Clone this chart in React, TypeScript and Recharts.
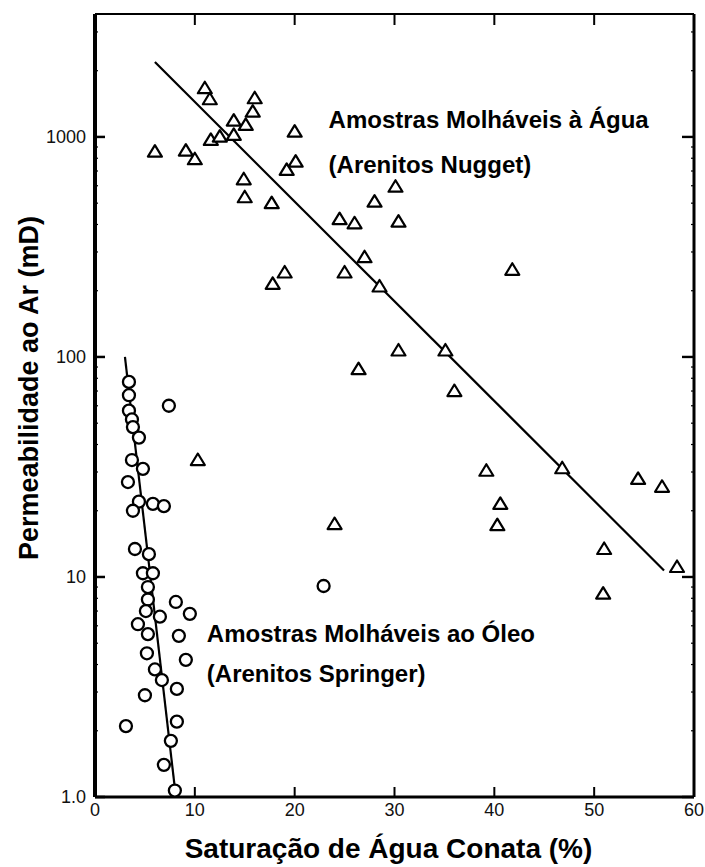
import React from 'react';
import { ScatterChart, Scatter, XAxis, YAxis, ReferenceLine, ReferenceDot } from 'recharts';

// Water-wet samples (Nugget sandstones): connate water saturation (%) and air permeability (mD)
const waterWetSw = [6.0, 9.1, 10.0, 11.0, 11.5, 11.6, 12.5, 13.9, 13.9, 15.1, 15.8, 16.0, 20.0, 14.9, 15.0, 17.7, 19.2, 20.1, 30.1, 28.0, 30.4, 24.5, 26.0, 27.0, 25.0, 28.5, 19.0, 17.8, 41.8, 30.4, 35.1, 26.4, 36.0, 39.2, 46.8, 54.4, 56.8, 40.6, 24.0, 40.3, 51.0, 58.3, 50.9, 10.3];
const waterWetK = [857, 866, 792, 1665, 1483, 969, 1003, 1186, 1021, 1134, 1303, 1499, 1057, 642, 532, 500, 708, 772, 594, 508, 412, 423, 405, 284, 242, 209, 242, 215, 249, 107, 107, 88, 70, 30.4, 31.2, 27.9, 25.7, 21.5, 17.4, 17.2, 13.4, 11.1, 8.4, 34.0];

// Oil-wet samples (Springer sandstones)
const oilWetSw = [3.4, 3.4, 3.4, 3.7, 3.8, 4.4, 7.4, 3.7, 4.8, 3.3, 4.4, 3.8, 5.8, 6.9, 4.0, 5.4, 4.8, 5.8, 5.3, 5.3, 8.1, 5.1, 6.5, 9.5, 4.3, 5.3, 8.4, 5.2, 9.1, 6.0, 6.7, 8.2, 5.0, 3.1, 8.2, 7.6, 6.9, 8.0, 22.9];
const oilWetK = [77, 67, 57, 52, 48, 43, 60, 34, 31, 27, 22, 20, 21.5, 21, 13.4, 12.7, 10.4, 10.4, 9.0, 7.9, 7.7, 7.0, 6.6, 6.8, 6.1, 5.5, 5.4, 4.5, 4.2, 3.8, 3.4, 3.1, 2.9, 2.1, 2.2, 1.8, 1.4, 1.07, 9.1];

// Trend lines (end points)
const waterFitSw = [6.0, 57.0];
const waterFitK = [2190, 10.7];
const oilFitSw = [3.0, 8.1];
const oilFitK = [100, 1.0];

// Axes
const xTicks = [0, 10, 20, 30, 40, 50, 60];
const xInnerTicks = [10, 20, 30, 40, 50];
const yMajorTicks = [1, 10, 100, 1000];
const yMinorMult = [2, 3, 4, 5, 6, 7, 8, 9];
const yTicks = yMajorTicks
  .flatMap((d) => [d, ...yMinorMult.map((m) => d * m)])
  .filter((v) => v <= 3000);
const yDomain = [1, 3620];

const xTitle = 'Saturação de Água Conata (%)';
const yTitle = 'Permeabilidade ao Ar (mD)';
const waterLabel1 = 'Amostras Molháveis à Água';
const waterLabel2 = '(Arenitos Nugget)';
const oilLabel1 = 'Amostras Molháveis ao Óleo';
const oilLabel2 = '(Arenitos Springer)';

const waterData = waterWetSw.map((x, i) => ({ x, y: waterWetK[i] }));
const oilData = oilWetSw.map((x, i) => ({ x, y: oilWetK[i] }));

const FONT = '"Liberation Sans", Arial, Helvetica, sans-serif';

const TriangleMark = (props: any) => {
  const { cx, cy } = props;
  if (cx == null || cy == null) return <g />;
  return (
    <polygon
      points={`${cx},${cy - 6.5} ${cx - 7},${cy + 5} ${cx + 7},${cy + 5}`}
      fill="#fff"
      stroke="#000"
      strokeWidth={2.2}
      strokeLinejoin="round"
    />
  );
};

const CircleMark = (props: any) => {
  const { cx, cy } = props;
  if (cx == null || cy == null) return <g />;
  return <circle cx={cx} cy={cy} r={6} fill="#fff" stroke="#000" strokeWidth={2.3} />;
};

const LeftTick = (props: any) => {
  const { x, y, payload } = props;
  const v = payload.value;
  const major = yMajorTicks.includes(v);
  return (
    <g>
      <line x1={x} y1={y} x2={x + (major ? 10 : 3)} y2={y} stroke="#000" strokeWidth={major ? 2.5 : 1.2} />
      {major && (
        <text x={x - 9} y={y} textAnchor="end" dominantBaseline="central" fontFamily={FONT} fontSize={18} fill="#111">
          {v === 1 ? '1.0' : String(v)}
        </text>
      )}
    </g>
  );
};

const RightTick = (props: any) => {
  const { x, y, payload } = props;
  const major = yMajorTicks.includes(payload.value);
  return <line x1={x} y1={y} x2={x - (major ? 12 : 3)} y2={y} stroke="#000" strokeWidth={major ? 2.4 : 1.2} />;
};

const BottomTick = (props: any) => {
  const { x, y, payload } = props;
  const v = payload.value;
  const inner = xInnerTicks.includes(v);
  return (
    <g>
      {inner && <line x1={x} y1={y} x2={x} y2={y - 10} stroke="#000" strokeWidth={2} />}
      <text x={x} y={y + 13} textAnchor="middle" dominantBaseline="central" fontFamily={FONT} fontSize={18} fill="#111">
        {String(v)}
      </text>
    </g>
  );
};

const TopTick = (props: any) => {
  const { x, y } = props;
  return <line x1={x} y1={y} x2={x} y2={y + 11} stroke="#000" strokeWidth={2} />;
};

const XTitle = (props: any) => {
  const vb = props.viewBox || { x: 95, y: 797, width: 599 };
  return (
    <text x={vb.x + vb.width / 2 - 6} y={vb.y + 61} textAnchor="middle" fontFamily={FONT} fontWeight="bold" fontSize={28} fill="#000">
      {xTitle}
    </text>
  );
};

const YTitle = (props: any) => {
  const vb = props.viewBox || { x: 10, y: 14 };
  const cx = vb.x + 19;
  const cy = 388;
  return (
    <text
      x={cx}
      y={cy}
      transform={`rotate(-90, ${cx}, ${cy})`}
      textAnchor="middle"
      dominantBaseline="central"
      fontFamily={FONT}
      fontWeight="bold"
      fontSize={27}
      fill="#000"
    >
      {yTitle}
    </text>
  );
};

const annText = (text: string, size: number) => (props: any) => {
  const { cx, cy } = props;
  if (cx == null || cy == null) return <g />;
  return (
    <text x={cx} y={cy} textAnchor="start" fontFamily={FONT} fontWeight="bold" fontSize={size} fill="#000">
      {text}
    </text>
  );
};

export default function App() {
  return (
    <div style={{ position: 'absolute', left: 0, top: 0, width: 705, height: 867, background: '#fff' }}>
      <ScatterChart width={705} height={867} margin={{ top: 13, right: 10, bottom: 20, left: 10 }}>
        <XAxis
          xAxisId={0}
          type="number"
          dataKey="x"
          domain={[0, 60]}
          allowDataOverflow
          ticks={xTicks}
          interval={0}
          tickSize={0}
          tickMargin={0}
          tickLine={false}
          tick={<BottomTick />}
          axisLine={{ stroke: '#000', strokeWidth: 3 }}
          height={50}
          label={<XTitle />}
        />
        <XAxis
          xAxisId="top"
          orientation="top"
          type="number"
          dataKey="x"
          domain={[0, 60]}
          allowDataOverflow
          ticks={xInnerTicks}
          interval={0}
          tickSize={0}
          tickMargin={0}
          tickLine={false}
          tick={<TopTick />}
          axisLine={{ stroke: '#000', strokeWidth: 2.2 }}
          height={1}
        />
        <YAxis
          yAxisId={0}
          type="number"
          dataKey="y"
          scale="log"
          domain={yDomain}
          allowDataOverflow
          ticks={yTicks}
          interval={0}
          tickSize={0}
          tickMargin={0}
          tickLine={false}
          tick={<LeftTick />}
          axisLine={{ stroke: '#000', strokeWidth: 4 }}
          width={85}
          label={<YTitle />}
        />
        <YAxis
          yAxisId="right"
          orientation="right"
          type="number"
          dataKey="y"
          scale="log"
          domain={yDomain}
          allowDataOverflow
          ticks={yTicks}
          interval={0}
          tickSize={0}
          tickMargin={0}
          tickLine={false}
          tick={<RightTick />}
          axisLine={{ stroke: '#000', strokeWidth: 3 }}
          width={1}
        />
        <ReferenceLine
          segment={[
            { x: waterFitSw[0], y: waterFitK[0] },
            { x: waterFitSw[1], y: waterFitK[1] },
          ]}
          stroke="#000"
          strokeWidth={2.2}
          ifOverflow="visible"
        />
        <ReferenceLine
          segment={[
            { x: oilFitSw[0], y: oilFitK[0] },
            { x: oilFitSw[1], y: oilFitK[1] },
          ]}
          stroke="#000"
          strokeWidth={2.2}
          ifOverflow="visible"
        />
        <Scatter data={oilData} shape={<CircleMark />} isAnimationActive={false} />
        <Scatter data={waterData} shape={<TriangleMark />} isAnimationActive={false} />
        <ReferenceDot x={23.4} y={1095} r={0} shape={annText(waterLabel1, 24)} ifOverflow="visible" />
        <ReferenceDot x={23.4} y={684} r={0} shape={annText(waterLabel2, 24)} ifOverflow="visible" />
        <ReferenceDot x={11.2} y={5.08} r={0} shape={annText(oilLabel1, 24)} ifOverflow="visible" />
        <ReferenceDot x={11.2} y={3.34} r={0} shape={annText(oilLabel2, 24)} ifOverflow="visible" />
      </ScatterChart>
    </div>
  );
}
